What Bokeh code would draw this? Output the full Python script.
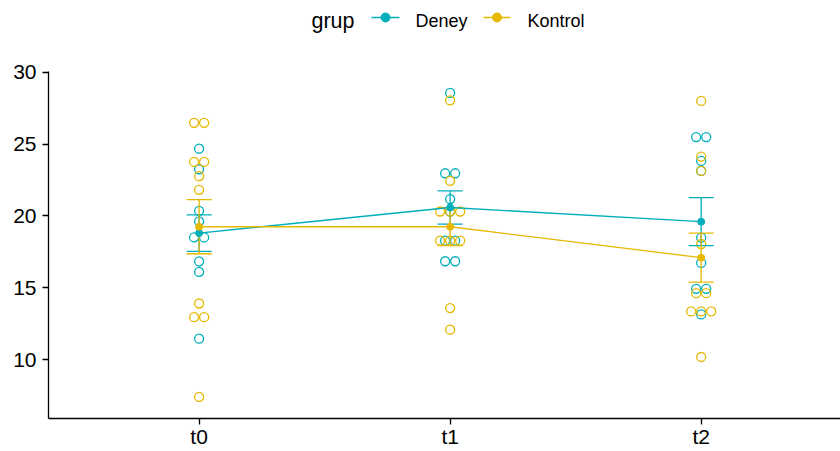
import numpy as np
from bokeh.plotting import figure
from bokeh.models import Range1d, FixedTicker
from bokeh.layouts import column
from bokeh.embed import file_html
from bokeh.resources import INLINE
from bokeh.core.properties import value

# ---------------- data ----------------
times = ["t0", "t1", "t2"]
time_pos = [1, 2, 3]
groups = ["Deney", "Kontrol"]
group_title = "grup"
colors = {"Deney": "#00AFBB", "Kontrol": "#E7B800"}

deney_t0 = [24.68, 23.25, 20.36, 19.62, 18.51, 18.51, 16.84, 16.11, 11.46]
deney_t1 = [28.56, 22.97, 22.97, 21.17, 20.31, 18.28, 18.28, 16.85, 16.85]
deney_t2 = [25.49, 25.49, 23.83, 23.13, 18.49, 16.73, 14.93, 14.93, 13.15]

kontrol_t0 = [26.48, 26.48, 23.76, 23.76, 22.77, 21.82, 13.91, 12.96, 12.96, 7.41]
kontrol_t1 = [28.04, 22.44, 20.31, 20.31, 20.31, 18.28, 18.28, 18.28, 13.59, 12.09]
kontrol_t2 = [28.00, 24.13, 23.13, 18.05, 14.63, 14.63, 13.36, 13.36, 13.36, 10.19]

deney_mean = [18.81, 20.59, 19.60]
deney_se = [1.27, 1.16, 1.67]
kontrol_mean = [19.25, 19.25, 17.10]
kontrol_se = [1.88, 1.32, 1.70]

y_ticks = [10, 15, 20, 25, 30]

raw = {
    "Deney": [deney_t0, deney_t1, deney_t2],
    "Kontrol": [kontrol_t0, kontrol_t1, kontrol_t2],
}
means = {"Deney": deney_mean, "Kontrol": kontrol_mean}
ses = {"Deney": deney_se, "Kontrol": kontrol_se}

FONT = "Liberation Sans"
STEP = 0.04      # horizontal spacing of tied points
CAP = 0.05       # half width of error-bar caps


def spread(vals):
    counts = {}
    for v in vals:
        counts[v] = counts.get(v, 0) + 1
    seen = {}
    offs = []
    for v in vals:
        k = counts[v]
        i = seen.get(v, 0)
        seen[v] = i + 1
        offs.append((i - (k - 1) / 2) * STEP)
    return offs


# ---------------- main plot ----------------
p = figure(width=840, height=399, x_range=Range1d(0.4, 3.555),
           y_range=Range1d(5.91, 30.05), output_backend="svg",
           toolbar_location=None, min_border_left=48, min_border_right=0,
           min_border_top=19, min_border_bottom=33)
p.xgrid.visible = False
p.ygrid.visible = False
p.outline_line_color = None
p.background_fill_color = "white"
p.border_fill_color = "white"

# jitter points
for g in groups:
    xs, ys = [], []
    for tp, vals in zip(time_pos, raw[g]):
        for off, v in zip(spread(vals), vals):
            xs.append(tp + off)
            ys.append(v)
    p.scatter(xs, ys, size=9, marker="circle", fill_color=None,
              line_color=colors[g], line_width=1.3)

# error bars
for g in groups:
    m = np.array(means[g]); s = np.array(ses[g]); x = np.array(time_pos, float)
    lo = m - s; hi = m + s
    p.segment(x, lo, x, hi, line_color=colors[g], line_width=1.3)
    p.segment(x - CAP, lo, x + CAP, lo, line_color=colors[g], line_width=1.3)
    p.segment(x - CAP, hi, x + CAP, hi, line_color=colors[g], line_width=1.3)

# mean lines & points
for g in groups:
    p.line(time_pos, means[g], line_color=colors[g], line_width=1.3)
for g in groups:
    p.scatter(time_pos, means[g], size=7, marker="circle",
              fill_color=colors[g], line_color=colors[g])

for ax in (p.xaxis[0], p.yaxis[0]):
    ax.axis_line_color = "black"
    ax.axis_line_width = 1.3
    ax.major_tick_line_color = "black"
    ax.major_tick_line_width = 1.3
    ax.major_tick_out = 6
    ax.major_tick_in = 0
    ax.minor_tick_line_color = None
    ax.major_label_text_font = FONT
    ax.major_label_text_font_size = "21px"
    ax.major_label_text_color = "black"

p.xaxis.ticker = FixedTicker(ticks=time_pos)
p.xaxis.major_label_overrides = {tp: t for tp, t in zip(time_pos, times)}
p.xaxis.major_label_standoff = 0
p.yaxis.ticker = FixedTicker(ticks=y_ticks)
p.yaxis.major_label_standoff = 6

# ---------------- legend strip (window pixel coordinates) ----------------
lg = figure(width=840, height=52, x_range=Range1d(48, 840), y_range=Range1d(52, 0),
            output_backend="svg", toolbar_location=None,
            x_axis_type=None, y_axis_type=None,
            min_border_left=48, min_border_right=0, min_border_top=0, min_border_bottom=0)
lg.xgrid.visible = False
lg.ygrid.visible = False
lg.outline_line_color = None

lg.text([311], [20.5], text=[group_title], text_font=value(FONT),
        text_font_size="21.5px", text_color="black", text_baseline="alphabetic")
key_x = {"Deney": (371, 399), "Kontrol": (483, 510)}
lab_x = {"Deney": 415, "Kontrol": 527}
for g in groups:
    a, b = key_x[g]
    lg.line([a, b], [17, 17], line_color=colors[g], line_width=1.3)
    lg.scatter([(a + b) / 2], [17], size=9, marker="circle",
               fill_color=colors[g], line_color=colors[g])
    lg.text([lab_x[g]], [20.5], text=[g], text_font=value(FONT),
            text_font_size="18px", text_color="black", text_baseline="alphabetic")

layout = column(lg, p, spacing=0)
open("out.html", "w").write(file_html(layout, INLINE))
